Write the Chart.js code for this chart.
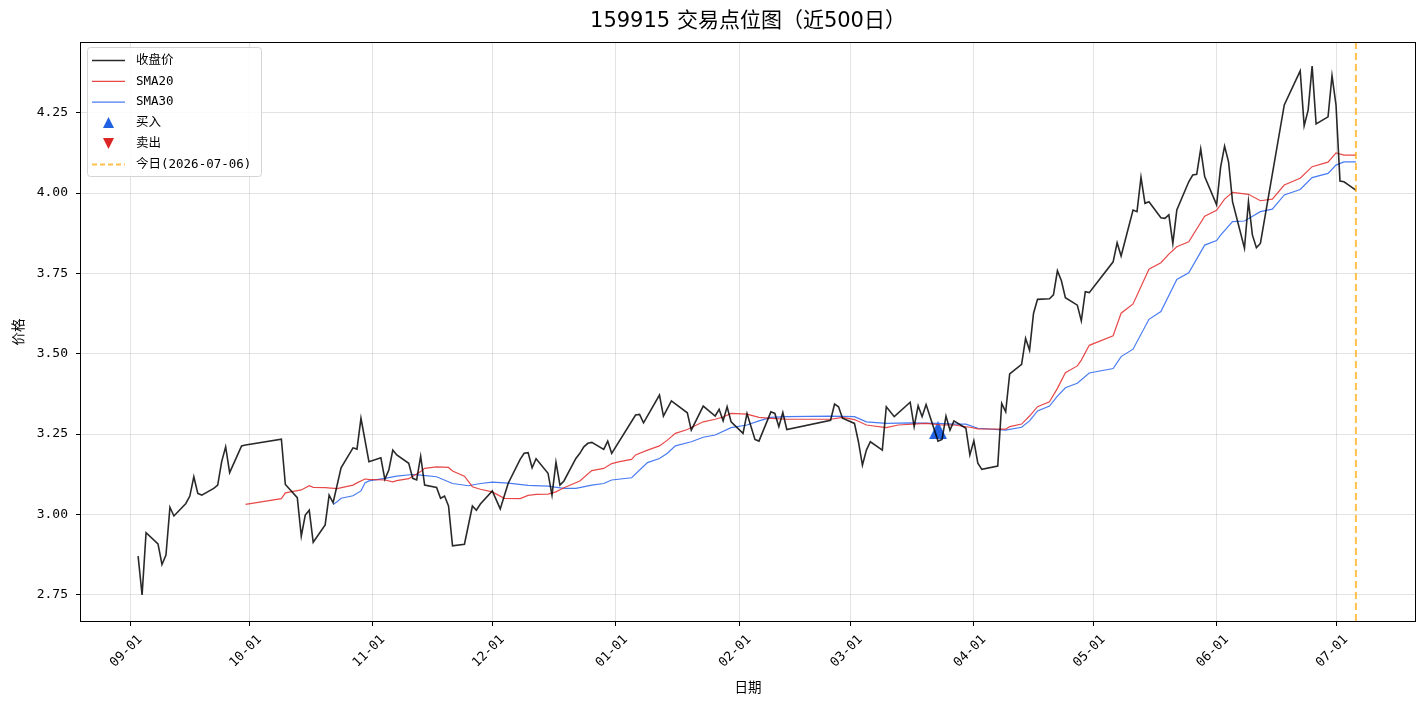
<!DOCTYPE html>
<html>
<head>
<meta charset="utf-8">
<title>159915 交易点位图</title>
<script src="https://cdn.jsdelivr.net/npm/chart.js@4.4.1/dist/chart.umd.min.js"></script>
<style>
  body { margin: 0; background: #fff; }
  #chart { display: block; }
</style>
</head>
<body>
<canvas id="chart" width="1427" height="706"></canvas>
<script>
// ---- data ----
const closeDates = [
  '2025-09-03','2025-09-04','2025-09-05','2025-09-08','2025-09-09','2025-09-10','2025-09-11','2025-09-12',
  '2025-09-15','2025-09-16','2025-09-17','2025-09-18','2025-09-19','2025-09-22','2025-09-23','2025-09-24',
  '2025-09-25','2025-09-26','2025-09-29','2025-09-30','2025-10-09','2025-10-10','2025-10-13','2025-10-14',
  '2025-10-15','2025-10-16','2025-10-17','2025-10-20','2025-10-21','2025-10-22','2025-10-24','2025-10-27',
  '2025-10-28','2025-10-29','2025-10-31','2025-11-03','2025-11-04','2025-11-05','2025-11-06','2025-11-07',
  '2025-11-10','2025-11-11','2025-11-12','2025-11-13','2025-11-14','2025-11-17','2025-11-18','2025-11-19',
  '2025-11-20','2025-11-21','2025-11-24','2025-11-26','2025-11-27','2025-11-28','2025-12-01','2025-12-03',
  '2025-12-04','2025-12-05','2025-12-08','2025-12-09','2025-12-10','2025-12-11','2025-12-12','2025-12-15',
  '2025-12-16','2025-12-17','2025-12-18','2025-12-19','2025-12-22','2025-12-23','2025-12-24','2025-12-25',
  '2025-12-26','2025-12-29','2025-12-30','2025-12-31','2026-01-06','2026-01-07','2026-01-08','2026-01-12',
  '2026-01-13','2026-01-15','2026-01-19','2026-01-20','2026-01-23','2026-01-26','2026-01-27','2026-01-28',
  '2026-01-29','2026-01-30','2026-02-02','2026-02-03','2026-02-05','2026-02-06','2026-02-09','2026-02-10',
  '2026-02-11','2026-02-12','2026-02-13','2026-02-24','2026-02-25','2026-02-26','2026-02-27','2026-03-02',
  '2026-03-03','2026-03-04','2026-03-05','2026-03-06','2026-03-09','2026-03-10','2026-03-12','2026-03-16',
  '2026-03-17','2026-03-18','2026-03-19','2026-03-20','2026-03-23','2026-03-24','2026-03-25','2026-03-26',
  '2026-03-27','2026-03-30','2026-03-31','2026-04-01','2026-04-02','2026-04-03','2026-04-07','2026-04-08',
  '2026-04-09','2026-04-10','2026-04-13','2026-04-14','2026-04-15','2026-04-16','2026-04-17','2026-04-20',
  '2026-04-21','2026-04-22','2026-04-23','2026-04-24','2026-04-27','2026-04-28','2026-04-29','2026-04-30',
  '2026-05-06','2026-05-07','2026-05-08','2026-05-11','2026-05-12','2026-05-13','2026-05-14','2026-05-15',
  '2026-05-18','2026-05-19','2026-05-20','2026-05-21','2026-05-22','2026-05-25','2026-05-26','2026-05-27',
  '2026-05-28','2026-05-29','2026-06-01','2026-06-02','2026-06-03','2026-06-04','2026-06-05','2026-06-08',
  '2026-06-09','2026-06-10','2026-06-11','2026-06-12','2026-06-18','2026-06-22','2026-06-23','2026-06-24',
  '2026-06-25','2026-06-26','2026-06-29','2026-06-30','2026-07-01','2026-07-02','2026-07-03','2026-07-06'
];
const closePrices = [
  2.870,2.749,2.943,2.908,2.844,2.873,3.022,2.995,
  3.034,3.057,3.117,3.065,3.060,3.081,3.091,3.164,
  3.210,3.130,3.213,3.216,3.234,3.093,3.052,2.932,
  2.998,3.013,2.913,2.967,3.060,3.036,3.145,3.207,
  3.203,3.299,3.164,3.176,3.109,3.138,3.200,3.185,
  3.159,3.112,3.107,3.181,3.091,3.084,3.050,3.057,
  3.026,2.902,2.907,3.026,3.013,3.032,3.073,3.017,
  3.057,3.097,3.171,3.190,3.192,3.145,3.173,3.128,
  3.060,3.162,3.091,3.104,3.174,3.190,3.210,3.221,
  3.224,3.202,3.228,3.190,3.309,3.311,3.285,3.371,
  3.306,3.353,3.316,3.262,3.337,3.306,3.327,3.291,
  3.335,3.288,3.252,3.314,3.233,3.228,3.319,3.314,
  3.273,3.317,3.264,3.293,3.343,3.335,3.299,3.283,
  3.226,3.153,3.200,3.226,3.200,3.335,3.304,3.349,
  3.273,3.338,3.304,3.342,3.228,3.233,3.306,3.262,
  3.291,3.268,3.185,3.229,3.159,3.140,3.150,3.345,
  3.319,3.437,3.467,3.548,3.511,3.626,3.669,3.671,
  3.683,3.758,3.727,3.674,3.651,3.602,3.693,3.690,
  3.786,3.845,3.804,3.947,3.942,4.049,3.968,3.973,
  3.923,3.921,3.932,3.843,3.947,4.035,4.056,4.058,
  4.137,4.051,3.963,4.080,4.146,4.097,3.973,3.828,
  3.973,3.869,3.830,3.843,4.274,4.380,4.209,4.258,
  4.395,4.215,4.237,4.365,4.274,4.037,4.035,4.009
];

const sma20Dates = [
  '2025-09-30','2025-10-09','2025-10-10','2025-10-14','2025-10-16','2025-10-17','2025-10-20','2025-10-23',
  '2025-10-27','2025-10-28','2025-10-30','2025-10-31','2025-11-04','2025-11-06','2025-11-07','2025-11-10',
  '2025-11-13','2025-11-14','2025-11-17','2025-11-20','2025-11-21','2025-11-24','2025-11-26','2025-11-28',
  '2025-12-01','2025-12-04','2025-12-08','2025-12-10','2025-12-12','2025-12-15','2025-12-17','2025-12-19',
  '2025-12-23','2025-12-26','2025-12-29','2025-12-31','2026-01-02','2026-01-05','2026-01-06','2026-01-09',
  '2026-01-12','2026-01-14','2026-01-16','2026-01-19','2026-01-23','2026-01-26','2026-01-28','2026-01-30',
  '2026-02-03','2026-02-06','2026-02-09','2026-02-13','2026-02-24','2026-02-27','2026-03-02','2026-03-05',
  '2026-03-10','2026-03-13','2026-03-20','2026-03-24','2026-03-27','2026-03-31','2026-04-02','2026-04-09',
  '2026-04-10','2026-04-13','2026-04-15','2026-04-17','2026-04-20','2026-04-22','2026-04-24','2026-04-27',
  '2026-04-28','2026-04-30','2026-05-06','2026-05-08','2026-05-11','2026-05-15','2026-05-18','2026-05-20',
  '2026-05-22','2026-05-25','2026-05-29','2026-06-01','2026-06-03','2026-06-05','2026-06-09','2026-06-12',
  '2026-06-15','2026-06-18','2026-06-22','2026-06-25','2026-06-29','2026-07-01','2026-07-03','2026-07-06'
];
const sma20Values = [
  3.031,3.049,3.067,3.076,3.089,3.084,3.083,3.080,
  3.091,3.098,3.110,3.109,3.107,3.101,3.105,3.111,
  3.133,3.143,3.148,3.146,3.135,3.119,3.086,3.078,
  3.070,3.050,3.049,3.059,3.062,3.063,3.070,3.083,
  3.104,3.136,3.143,3.158,3.164,3.171,3.185,3.200,
  3.213,3.231,3.252,3.264,3.288,3.296,3.303,3.314,
  3.312,3.302,3.299,3.296,3.296,3.302,3.295,3.278,
  3.270,3.278,3.283,3.278,3.278,3.271,3.266,3.265,
  3.273,3.281,3.306,3.335,3.350,3.392,3.441,3.462,
  3.480,3.526,3.556,3.626,3.655,3.763,3.783,3.810,
  3.833,3.848,3.928,3.946,3.981,4.002,3.996,3.976,
  3.981,4.025,4.046,4.082,4.096,4.125,4.118,4.118
];

const sma30Dates = [
  '2025-10-22','2025-10-23','2025-10-24','2025-10-27','2025-10-29','2025-10-30','2025-10-31','2025-11-04',
  '2025-11-07','2025-11-11','2025-11-13','2025-11-17','2025-11-21','2025-11-25','2025-11-28','2025-12-01',
  '2025-12-05','2025-12-10','2025-12-15','2025-12-19','2025-12-22','2025-12-26','2025-12-29','2025-12-31',
  '2026-01-05','2026-01-09','2026-01-12','2026-01-14','2026-01-16','2026-01-20','2026-01-23','2026-01-26',
  '2026-01-30','2026-02-03','2026-02-06','2026-02-09','2026-02-13','2026-02-24','2026-03-02','2026-03-05',
  '2026-03-10','2026-03-16','2026-03-23','2026-03-27','2026-03-30','2026-04-02','2026-04-09','2026-04-13',
  '2026-04-15','2026-04-17','2026-04-20','2026-04-22','2026-04-24','2026-04-27','2026-04-30','2026-05-06',
  '2026-05-08','2026-05-11','2026-05-15','2026-05-18','2026-05-22','2026-05-25','2026-05-29','2026-06-01',
  '2026-06-02','2026-06-05','2026-06-08','2026-06-12','2026-06-15','2026-06-18','2026-06-22','2026-06-25',
  '2026-06-29','2026-07-01','2026-07-03','2026-07-06'
];
const sma30Values = [
  3.031,3.039,3.050,3.058,3.073,3.098,3.104,3.112,
  3.119,3.124,3.122,3.117,3.096,3.089,3.096,3.100,
  3.097,3.090,3.088,3.081,3.081,3.091,3.096,3.107,
  3.114,3.161,3.174,3.190,3.213,3.226,3.240,3.247,
  3.270,3.278,3.291,3.302,3.304,3.306,3.304,3.288,
  3.283,3.285,3.283,3.281,3.281,3.268,3.262,3.271,
  3.291,3.322,3.337,3.368,3.394,3.408,3.440,3.454,
  3.491,3.514,3.607,3.631,3.731,3.752,3.838,3.852,
  3.869,3.911,3.913,3.942,3.950,3.994,4.011,4.048,
  4.061,4.087,4.097,4.097
];

const buyDates = ['2026-03-23'];
const buyPrices = [3.262];
const sellDates = [];
const sellPrices = [];

const todayDate = '2026-07-06';
const monthTicks = ['2025-09-01','2025-10-01','2025-11-01','2025-12-01','2026-01-01','2026-02-01',
                    '2026-03-01','2026-04-01','2026-05-01','2026-06-01','2026-07-01'];
const priceTicks = [2.75, 3.00, 3.25, 3.50, 3.75, 4.00, 4.25];

// axis limits (days counted from 2025-09-01)
const xMin = -12.6, xMax = 323.1;
const yMin = 2.665, yMax = 4.470;

// ---- helpers ----
const BASE = Date.UTC(2025, 8, 1);
function dayOf(s) {
  return (Date.UTC(+s.slice(0, 4), +s.slice(5, 7) - 1, +s.slice(8, 10)) - BASE) / 86400000;
}
function pad2(n) { return (n < 10 ? '0' : '') + n; }
function dayLabel(d) {
  const t = new Date(BASE + Math.round(d) * 86400000);
  return pad2(t.getUTCMonth() + 1) + '-' + pad2(t.getUTCDate());
}
function toPoints(dates, values) {
  return dates.map((s, i) => ({ x: dayOf(s), y: values[i] }));
}

// triangle marker images (centred on the point like matplotlib)
function triangleMarker(color, up, size) {
  const c = document.createElement('canvas');
  c.width = size; c.height = size;
  const g = c.getContext('2d');
  g.fillStyle = color;
  g.beginPath();
  if (up) {
    g.moveTo(size / 2, 0); g.lineTo(size, size); g.lineTo(0, size);
  } else {
    g.moveTo(0, 0); g.lineTo(size, 0); g.lineTo(size / 2, size);
  }
  g.closePath();
  g.fill();
  return c;
}

const COLOR_CLOSE = 'rgba(0,0,0,0.84)';
const COLOR_SMA20 = 'rgba(228,40,40,0.85)';
const COLOR_SMA30 = 'rgba(40,100,240,0.85)';
const COLOR_BUY = '#2162e3';
const COLOR_SELL = '#dc2626';
const COLOR_TODAY = 'rgba(255,165,0,0.7)';
const MONO = "'DejaVu Sans Mono', 'Noto Sans CJK SC', monospace";

const buyMark = triangleMarker(COLOR_BUY, true, 18);
const sellMark = triangleMarker(COLOR_SELL, false, 18);

// frame round the plot, the "today" line and the legend box
const framePlugin = {
  id: 'frame',
  afterDatasetsDraw(chart) {
    const { ctx, chartArea: a, scales } = chart;
    const tx = scales.x.getPixelForValue(dayOf(todayDate));
    ctx.save();
    ctx.strokeStyle = COLOR_TODAY;
    ctx.lineWidth = 2;
    ctx.setLineDash([7, 4]);
    ctx.beginPath();
    ctx.moveTo(tx, a.top);
    ctx.lineTo(tx, a.bottom);
    ctx.stroke();
    ctx.restore();
  },
  afterDraw(chart) {
    const { ctx, chartArea: a } = chart;
    ctx.save();
    ctx.strokeStyle = '#000';
    ctx.lineWidth = 1;
    ctx.strokeRect(Math.round(a.left) + 0.5, Math.round(a.top) + 0.5,
                   Math.round(a.right - a.left) - 1, Math.round(a.bottom - a.top) - 1);

    // legend
    const bx = a.left + 7, by = a.top + 5, bw = 174, bh = 129;
    ctx.fillStyle = 'rgba(255,255,255,0.85)';
    ctx.strokeStyle = '#d4d4d4';
    ctx.beginPath();
    ctx.roundRect(bx + 0.5, by + 0.5, bw, bh, 3);
    ctx.fill();
    ctx.stroke();

    const items = [
      { label: '收盘价', kind: 'line', color: COLOR_CLOSE, width: 1.5 },
      { label: 'SMA20', kind: 'line', color: COLOR_SMA20, width: 1.2 },
      { label: 'SMA30', kind: 'line', color: COLOR_SMA30, width: 1.2 },
      { label: '买入', kind: 'mark', img: triangleMarker(COLOR_BUY, true, 11) },
      { label: '卖出', kind: 'mark', img: triangleMarker(COLOR_SELL, false, 11) },
      { label: '今日(2026-07-06)', kind: 'dash', color: COLOR_TODAY, width: 2 }
    ];
    ctx.font = '12.5px ' + MONO;
    ctx.textBaseline = 'middle';
    items.forEach((it, i) => {
      const y = by + 13.5 + i * 20.8;
      if (it.kind === 'mark') {
        ctx.drawImage(it.img, bx + 16, Math.round(y - 5.5));
      } else {
        ctx.strokeStyle = it.color;
        ctx.lineWidth = it.width;
        ctx.setLineDash(it.kind === 'dash' ? [5, 3] : []);
        ctx.beginPath();
        ctx.moveTo(bx + 5, y);
        ctx.lineTo(bx + 38, y);
        ctx.stroke();
        ctx.setLineDash([]);
      }
      ctx.fillStyle = '#000';
      ctx.fillText(it.label, bx + 49, y);
    });
    ctx.restore();
  }
};

const chart = new Chart(document.getElementById('chart'), {
  type: 'line',
  data: {
    datasets: [
      {
        label: '收盘价',
        data: toPoints(closeDates, closePrices),
        borderColor: COLOR_CLOSE,
        borderWidth: 1.6,
        pointRadius: 0,
        tension: 0
      },
      {
        label: 'SMA20',
        data: toPoints(sma20Dates, sma20Values),
        borderColor: COLOR_SMA20,
        borderWidth: 1.2,
        pointRadius: 0,
        tension: 0
      },
      {
        label: 'SMA30',
        data: toPoints(sma30Dates, sma30Values),
        borderColor: COLOR_SMA30,
        borderWidth: 1.2,
        pointRadius: 0,
        tension: 0
      },
      {
        label: '买入',
        data: toPoints(buyDates, buyPrices),
        showLine: false,
        pointStyle: buyMark,
        pointRadius: 9
      },
      {
        label: '卖出',
        data: toPoints(sellDates, sellPrices),
        showLine: false,
        pointStyle: sellMark,
        pointRadius: 9
      }
    ]
  },
  options: {
    responsive: false,
    animation: false,
    layout: { padding: { left: 0, right: 11, top: 0, bottom: 0 } },
    plugins: {
      legend: { display: false },
      tooltip: { enabled: false },
      title: {
        display: true,
        fullSize: false,
        text: '159915 交易点位图（近500日）',
        color: '#000',
        font: { family: "'DejaVu Sans', 'Noto Sans CJK SC', sans-serif", size: 21, weight: 'normal', lineHeight: 1.2 },
        padding: { top: 9, bottom: 7.8 }
      }
    },
    scales: {
      x: {
        type: 'linear',
        min: xMin,
        max: xMax,
        afterBuildTicks: (s) => { s.ticks = monthTicks.map(m => ({ value: dayOf(m) })); },
        afterFit: (s) => { s.height = 84; },
        grid: { color: 'rgba(176,176,176,0.35)', tickColor: '#000', tickLength: 4, lineWidth: 1 },
        border: { display: false },
        ticks: {
          autoSkip: false,
          maxRotation: 45,
          minRotation: 45,
          padding: 6,
          labelOffset: 10,
          color: '#000',
          font: { family: MONO, size: 13 },
          callback: (v) => dayLabel(v)
        },
        title: {
          display: true,
          text: '日期',
          color: '#000',
          font: { family: "'Noto Sans CJK SC', sans-serif", size: 13.5 },
          padding: { top: 0, bottom: 11 }
        }
      },
      y: {
        min: yMin,
        max: yMax,
        afterBuildTicks: (s) => { s.ticks = priceTicks.map(v => ({ value: v })); },
        afterFit: (s) => { s.width = 80; },
        grid: { color: 'rgba(176,176,176,0.35)', tickColor: '#000', tickLength: 4, lineWidth: 1 },
        border: { display: false },
        ticks: {
          padding: 8,
          color: '#000',
          font: { family: MONO, size: 13 },
          callback: (v) => v.toFixed(2)
        },
        title: {
          display: true,
          text: '价格',
          color: '#000',
          font: { family: "'Noto Sans CJK SC', sans-serif", size: 13.5 },
          padding: { top: 10, bottom: 0 }
        }
      }
    }
  },
  plugins: [framePlugin]
});
</script>
</body>
</html>
